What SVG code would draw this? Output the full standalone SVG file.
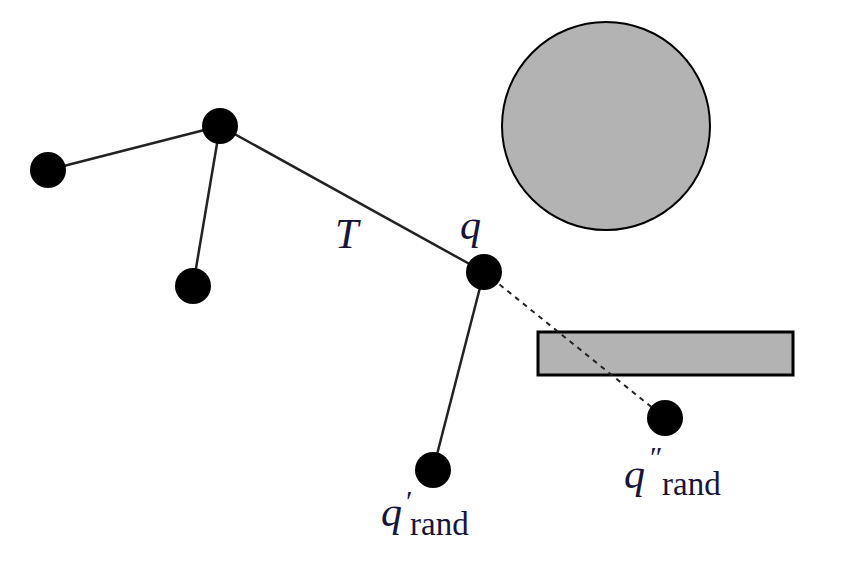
<svg xmlns="http://www.w3.org/2000/svg" width="862" height="576" viewBox="0 0 862 576">
<style>
.n{fill:#000}
.e{stroke:#222;stroke-width:2.5;fill:none}
.d{stroke:#222;stroke-width:2;stroke-dasharray:5,5;fill:none}
.obs{fill:#b3b3b3;stroke:#000}
.t{font-family:"Liberation Serif",serif;font-style:italic;fill:#16163c;font-size:42px}
.s{font-family:"Liberation Serif",serif;fill:#16163c;font-size:33px}
.p{font-family:"Liberation Serif",serif;fill:#16163c;font-size:30px}
</style>
<rect width="862" height="576" fill="#fff"/>
<g id="obstacles">
<circle class="obs" cx="606" cy="126" r="104" stroke-width="2"/>
<rect class="obs" x="538" y="332" width="255" height="43" stroke-width="3"/>
</g>
<g id="connectors">
<line class="e" x1="48" y1="170" x2="220" y2="126"/>
<line class="e" x1="220" y1="126" x2="193" y2="286"/>
<line class="e" x1="220" y1="126" x2="484" y2="272"/>
<line class="e" x1="484" y1="272" x2="433" y2="470"/>
<line class="d" x1="484" y1="272" x2="665" y2="418"/>
</g>
<g id="n1"><circle class="n" cx="48" cy="170" r="18"/></g>
<g id="n2"><circle class="n" cx="220" cy="126" r="18"/></g>
<g id="n3"><circle class="n" cx="193" cy="286" r="18"/></g>
<g id="q"><circle class="n" cx="484" cy="272" r="18"/></g>
<g id="qrand1"><circle class="n" cx="433" cy="470" r="18"/></g>
<g id="qrand2"><circle class="n" cx="665" cy="418" r="18"/></g>
<g id="labels">
<text class="t" x="335" y="248">T</text>
<text class="t" x="460" y="239">q</text>
<text class="t" x="381" y="526">q</text>
<text class="p" x="406" y="511">′</text>
<text class="s" x="410" y="535">rand</text>
<text class="t" x="624" y="488">q</text>
<text class="p" x="650" y="467">″</text>
<text class="s" x="662" y="495">rand</text>
</g>
</svg>
